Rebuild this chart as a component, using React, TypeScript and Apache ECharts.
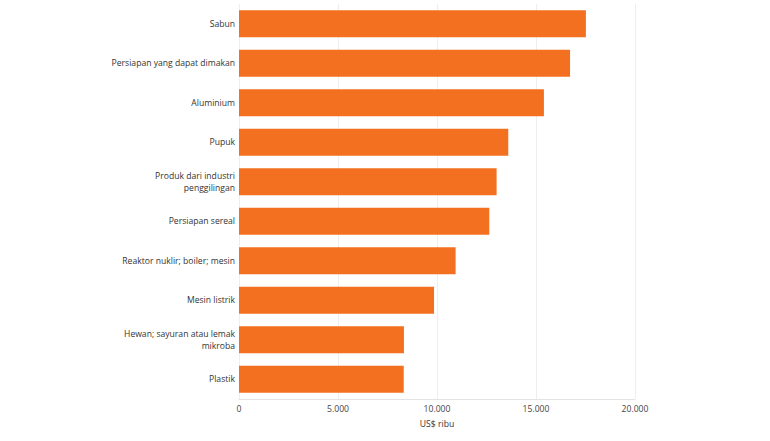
import React, { useEffect, useRef } from 'react';
import * as echarts from 'echarts';

const categories = [
  'Sabun',
  'Persiapan yang dapat dimakan',
  'Aluminium',
  'Pupuk',
  'Produk dari industri\npenggilingan',
  'Persiapan sereal',
  'Reaktor nuklir; boiler; mesin',
  'Mesin listrik',
  'Hewan; sayuran atau lemak\nmikroba',
  'Plastik',
];

const values = [17520, 16720, 15400, 13600, 13010, 12640, 10940, 9850, 8330, 8320];

const axisName = 'US$ ribu';

const fmt = (v: number) => String(v).replace(/\B(?=(\d{3})+(?!\d))/g, '.');

const App: React.FC = () => {
  const chartRef = useRef<HTMLDivElement>(null);

  useEffect(() => {
    document.body.style.margin = '0';
    if (!chartRef.current) return;
    const chart = echarts.init(chartRef.current, null, { renderer: 'svg' });
    const font = '"Open Sans", sans-serif';
    chart.setOption({
      animation: false,
      grid: { left: 239, right: 135, top: 4, bottom: 42, containLabel: false, outerBoundsMode: 'none' },
      xAxis: {
        type: 'value',
        min: 0,
        max: 20000,
        interval: 5000,
        name: axisName,
        nameLocation: 'middle',
        nameGap: 20,
        nameTextStyle: { color: '#333', fontSize: 8.6, fontFamily: font },
        axisLine: { show: true, lineStyle: { color: '#e3e3e3' } },
        axisTick: { show: false },
        splitLine: { lineStyle: { color: '#eeeeee' } },
        axisLabel: { color: '#444', fontSize: 8.6, fontFamily: font, margin: 5, formatter: (v: number) => fmt(v) },
      },
      yAxis: {
        type: 'category',
        inverse: true,
        data: categories,
        axisLine: { show: false },
        axisTick: { show: false },
        axisLabel: { color: '#333', fontSize: 8.6, fontFamily: font, margin: 4, lineHeight: 12 },
      },
      series: [
        {
          type: 'bar',
          data: values,
          barWidth: '68%',
          itemStyle: { color: '#F37021' },
        },
      ],
    });
    return () => chart.dispose();
  }, []);

  return <div ref={chartRef} style={{ width: 770, height: 441 }} />;
};

export default App;
